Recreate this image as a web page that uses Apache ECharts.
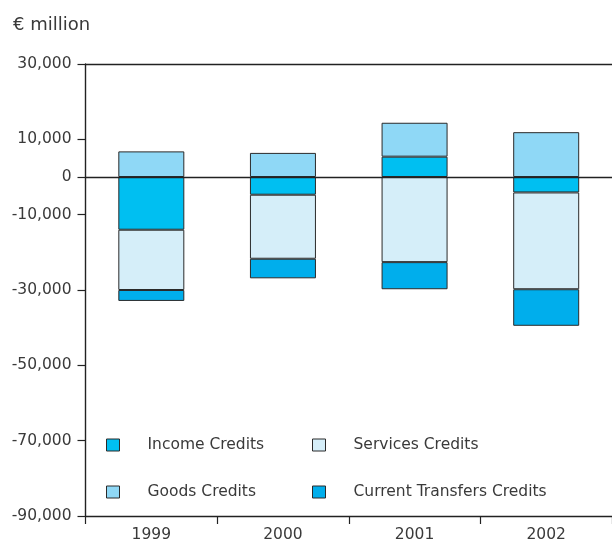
<!DOCTYPE html>
<html>
<head>
<meta charset="utf-8">
<script src="https://cdn.jsdelivr.net/npm/echarts@6/dist/echarts.min.js"></script>
<style>html,body{margin:0;padding:0;background:#fff}#c{width:612px;height:543px}</style>
</head>
<body>
<div id="c"></div>
<script>
var categories = ['1999', '2000', '2001', '2002'];
var incomeCredits = [-14000, -4700, 5400, -4100];
var servicesCredits = [-16000, -17000, -22600, -25700];
var goodsCredits = [6800, 6400, 9000, 11900];
var currentTransfersCredits = [-2900, -5200, -7200, -9700];
var yTickValues = [-90000, -70000, -50000, -30000, -10000, 0, 10000, 30000];
var unitLabel = '€ million';

var FONT = 'DejaVu Sans';
var TXT = '#3a3a3a';
var chart = echarts.init(document.getElementById('c'), null, {renderer: 'canvas'});

function fmt(v) { return v.toLocaleString('en-US'); }

var names = ['Income Credits', 'Services Credits', 'Goods Credits', 'Current Transfers Credits'];
var colors = ['#00BFF1', '#D5EEF9', '#8FD8F6', '#00AEEC'];
var datas = [incomeCredits, servicesCredits, goodsCredits, currentTransfersCredits];

var series = names.map(function (n, i) {
  var s = {
    name: n, type: 'bar', stack: 'total', data: datas[i], barWidth: 66,
    itemStyle: {color: colors[i], borderColor: '#2a2a2a', borderWidth: 1},
    emphasis: {disabled: true}
  };
  if (i === 3) {
    s.markLine = {
      silent: true, symbol: 'none', label: {show: false},
      lineStyle: {color: '#222', type: 'solid', width: 1.4},
      data: [{yAxis: 0}, {yAxis: 30000}]
    };
  }
  return s;
});

var legendPos = [
  {left: 106, top: 437}, {left: 312, top: 437},
  {left: 106, top: 484}, {left: 312, top: 484}
];
var legends = names.map(function (n, i) {
  return {
    data: [n], left: legendPos[i].left, top: legendPos[i].top, padding: 0,
    icon: 'rect', itemWidth: 13, itemHeight: 12,
    itemStyle: {borderColor: '#2a2a2a', borderWidth: 1},
    textStyle: {fontFamily: FONT, fontSize: 15.5, color: TXT, padding: [0, 0, 0, 23]},
    selectedMode: false
  };
});

chart.setOption({
  animation: false,
  backgroundColor: '#fff',
  title: {text: unitLabel, left: 8, top: 11, textStyle: {fontFamily: FONT, fontSize: 18, fontWeight: 'normal', color: TXT}},
  legend: legends,
  grid: {left: 85.5, right: 0, top: 64, bottom: 26, containLabel: false},
  xAxis: {
    type: 'category', data: categories,
    axisLine: {onZero: false, lineStyle: {color: '#222', width: 1.4}},
    axisTick: {show: true, length: 8, lineStyle: {color: '#222', width: 1.2}},
    axisLabel: {fontFamily: FONT, fontSize: 15.5, color: TXT, margin: 11}
  },
  yAxis: {
    type: 'value', min: -90000, max: 30000, interval: 20000,
    axisLine: {show: true, lineStyle: {color: '#222', width: 1.4}},
    axisTick: {show: true, length: 8, customValues: yTickValues, lineStyle: {color: '#222', width: 1.2}},
    axisLabel: {fontFamily: FONT, fontSize: 15.5, color: TXT, margin: 14, customValues: yTickValues, formatter: fmt},
    splitLine: {show: false}
  },
  series: series
});
</script>
</body>
</html>
